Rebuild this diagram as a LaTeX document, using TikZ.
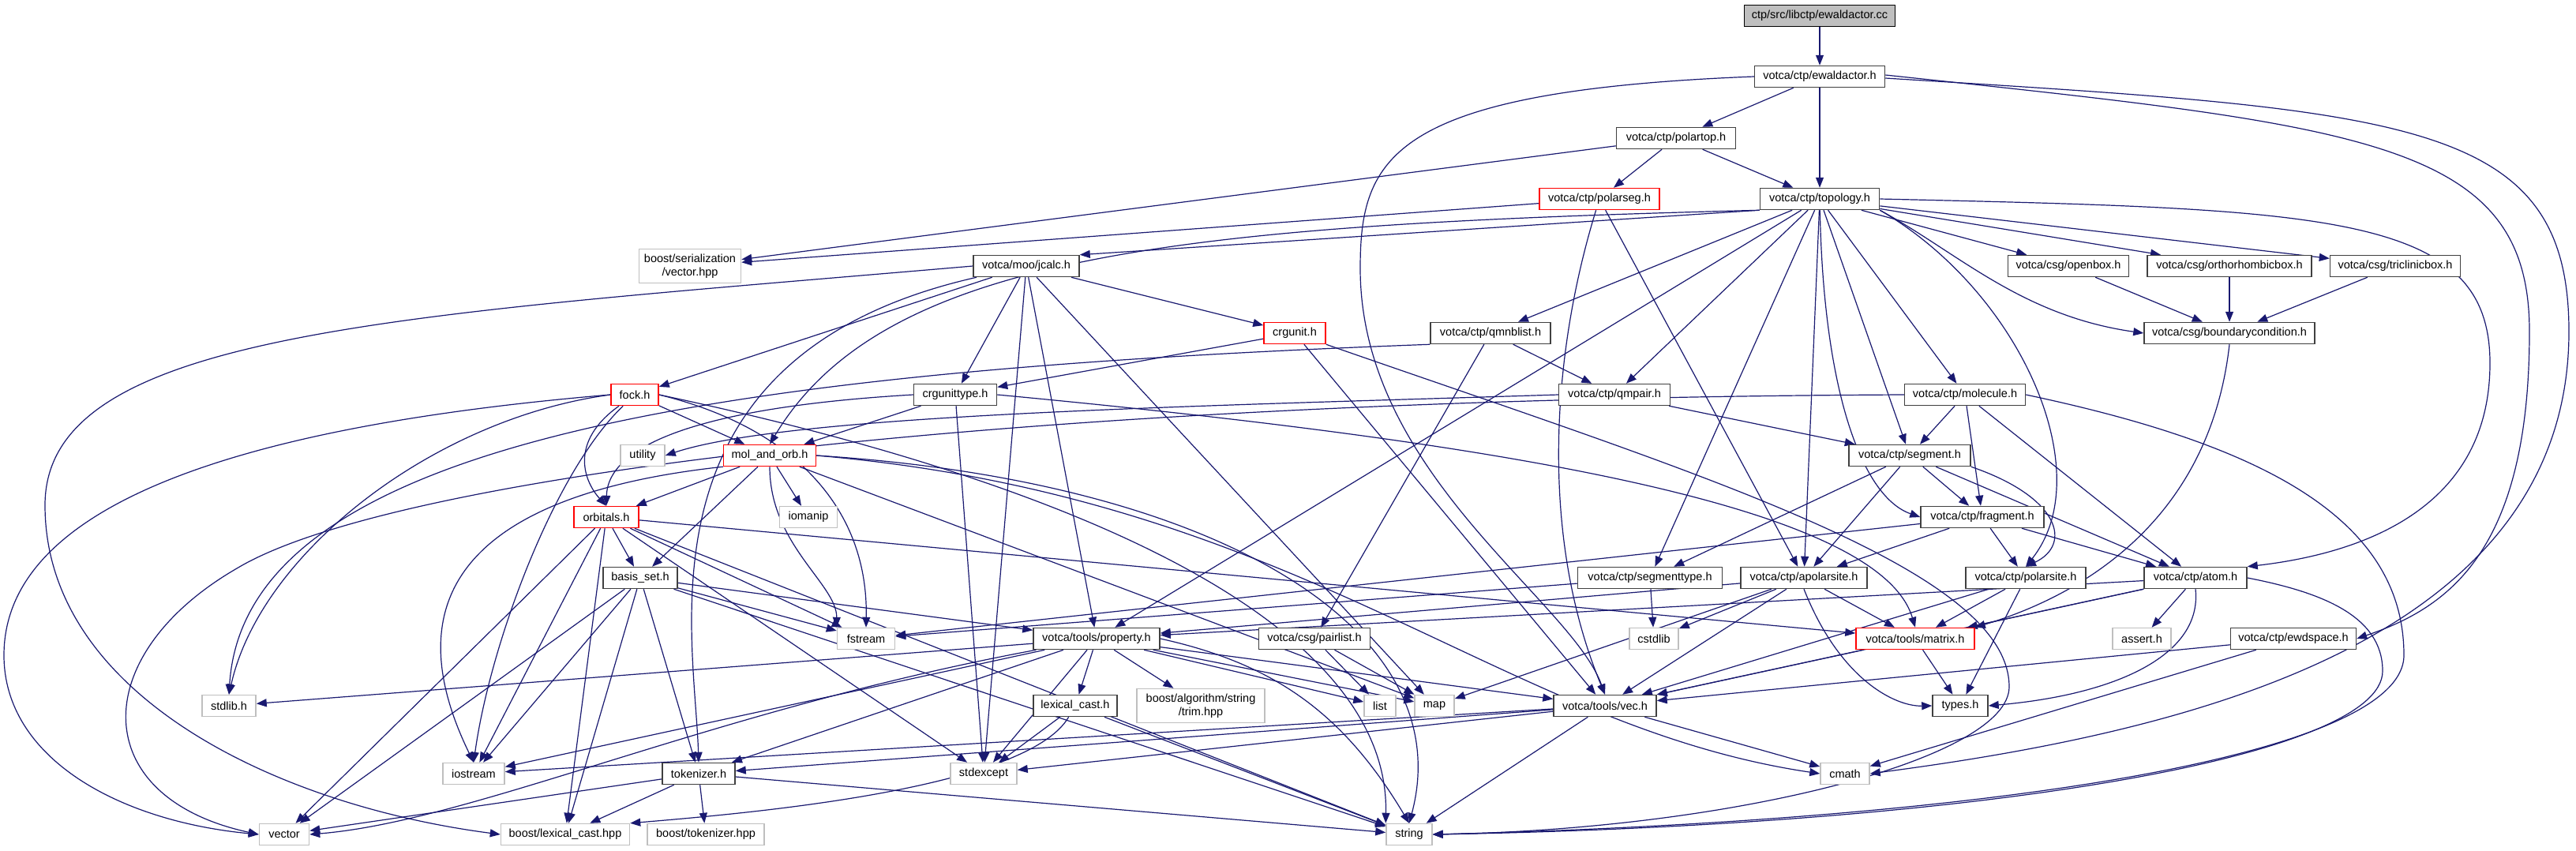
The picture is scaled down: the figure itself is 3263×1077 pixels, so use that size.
\documentclass[tikz,border=0pt]{standalone}
\usepackage{fontspec}
\setmainfont{Liberation Sans}
\usetikzlibrary{arrows.meta}
\definecolor{edgec}{HTML}{191970}
\definecolor{boxc}{HTML}{404040}
\definecolor{sysc}{HTML}{BFBFBF}
\definecolor{redc}{HTML}{FF0000}
\pgfdeclarelayer{bg}
\pgfsetlayers{bg,main}
\tikzset{
  hdr/.style={draw=boxc, line width=1.5pt, fill=white, minimum height=27pt, inner sep=0pt, font=\fontsize{14.5}{17}\selectfont},
  redbox/.style={hdr, draw=redc},
  sysbox/.style={hdr, draw=sysc},
  e/.style={draw=edgec, line width=1.2pt, -{Triangle[length=13pt,width=10pt]}},
}
\begin{document}
\begin{tikzpicture}[x=1pt,y=-1pt]
\useasboundingbox (0,0) rectangle (3263,1077);
% nodes
\node[hdr, fill=sysc, draw=black, minimum width=191pt] (cc) at (2305,20) {ctp/src/libctp/ewaldactor.cc};
\node[hdr, minimum width=165pt] (ewaldactor) at (2305,97) {votca/ctp/ewaldactor.h};
\node[hdr, minimum width=151pt] (polartop) at (2123,175) {votca/ctp/polartop.h};
\node[redbox, minimum width=152pt] (polarseg) at (2026,252) {votca/ctp/polarseg.h};
\node[hdr, minimum width=151pt] (topology) at (2305,252) {votca/ctp/topology.h};
\node[sysbox, minimum width=129pt, minimum height=43pt, align=center] (bser) at (874,337) {boost/serialization\\/vector.hpp};
\node[hdr, minimum width=134pt] (jcalc) at (1300,337) {votca/moo/jcalc.h};
\node[hdr, minimum width=153pt] (openbox) at (2620,337) {votca/csg/openbox.h};
\node[hdr, minimum width=208pt] (ortho) at (2824,337) {votca/csg/orthorhombicbox.h};
\node[hdr, minimum width=165pt] (triclinic) at (3034,337) {votca/csg/triclinicbox.h};
\node[redbox, minimum width=78pt] (crgunit) at (1640,422) {crgunit.h};
\node[hdr, minimum width=152pt] (qmnblist) at (1888,422) {votca/ctp/qmnblist.h};
\node[hdr, minimum width=216pt] (boundary) at (2824,422) {votca/csg/boundarycondition.h};
\node[redbox, minimum width=60pt] (fock) at (804,500) {fock.h};
\node[hdr, minimum width=105pt] (crgunittype) at (1210,500) {crgunittype.h};
\node[hdr, minimum width=141pt] (qmpair) at (2045,500) {votca/ctp/qmpair.h};
\node[hdr, minimum width=153pt] (molecule) at (2489,500) {votca/ctp/molecule.h};
\node[sysbox, minimum width=56pt] (utility) at (814,577) {utility};
\node[redbox, minimum width=117pt] (molorb) at (975,577) {mol\_and\_orb.h};
\node[hdr, minimum width=154pt] (segment) at (2419,577) {votca/ctp/segment.h};
\node[redbox, minimum width=82pt] (orbitals) at (768,655) {orbitals.h};
\node[sysbox, minimum width=73pt] (iomanip) at (1024,655) {iomanip};
\node[hdr, minimum width=156pt] (fragment) at (2511,655) {votca/ctp/fragment.h};
\node[hdr, minimum width=94pt] (basis) at (811,732) {basis\_set.h};
\node[hdr, minimum width=183pt] (segmenttype) at (2090,732) {votca/ctp/segmenttype.h};
\node[hdr, minimum width=160pt] (apolarsite) at (2285,732) {votca/ctp/apolarsite.h};
\node[hdr, minimum width=152pt] (polarsite) at (2566,732) {votca/ctp/polarsite.h};
\node[hdr, minimum width=130pt] (atom) at (2781,732) {votca/ctp/atom.h};
\node[sysbox, minimum width=73pt] (fstream) at (1097,809) {fstream};
\node[hdr, minimum width=160pt] (property) at (1389,809) {votca/tools/property.h};
\node[hdr, minimum width=141pt] (pairlist) at (1665,809) {votca/csg/pairlist.h};
\node[sysbox, minimum width=62pt] (cstdlib) at (2095,809) {cstdlib};
\node[redbox, minimum width=150pt] (matrix) at (2426,809) {votca/tools/matrix.h};
\node[sysbox, minimum width=74pt] (assert) at (2713,809) {assert.h};
\node[hdr, minimum width=159pt] (ewdspace) at (2905,809) {votca/ctp/ewdspace.h};
\node[sysbox, minimum width=68pt] (stdlib) at (290,894) {stdlib.h};
\node[hdr, minimum width=106pt] (lexcast) at (1362,894) {lexical\_cast.h};
\node[sysbox, minimum width=162pt, minimum height=43pt, align=center] (trim) at (1521,894) {boost/algorithm/string\\/trim.hpp};
\node[sysbox, minimum width=40pt] (list) at (1748,894) {list};
\node[sysbox, minimum width=50pt] (map) at (1817,894) {map};
\node[hdr, minimum width=130pt] (vec) at (2033,894) {votca/tools/vec.h};
\node[hdr, minimum width=70pt] (types) at (2483,894) {types.h};
\node[sysbox, minimum width=78pt] (iostream) at (600,980) {iostream};
\node[hdr, minimum width=92pt] (tokenizer) at (885,980) {tokenizer.h};
\node[sysbox, minimum width=84pt] (stdexcept) at (1246,980) {stdexcept};
\node[sysbox, minimum width=62pt] (cmath) at (2337,980) {cmath};
\node[sysbox, minimum width=63pt] (vector) at (360,1057) {vector};
\node[sysbox, minimum width=163pt] (blexcast) at (716,1057) {boost/lexical\_cast.hpp};
\node[sysbox, minimum width=148pt] (boosttok) at (894,1057) {boost/tokenizer.hpp};
\node[sysbox, minimum width=58pt] (string) at (1785,1057) {string};
% waypoints
\coordinate (wA) at (1723,340);
\coordinate (wB) at (3204,420);
\coordinate (wC) at (3254,420);
\coordinate (wD) at (3154,460);
\coordinate (wE) at (57,640);
\coordinate (wF) at (5,830);
\coordinate (wG) at (3045,830);
\coordinate (wH) at (3018,850);
\coordinate (wI) at (2545,870);
\coordinate (wJ) at (300,720);
\begin{pgfonlayer}{bg}
\fill[white] (0,0) rectangle (3263,1077);
\foreach \a/\b in {
cc/ewaldactor, ewaldactor/polartop, ewaldactor/topology,
polartop/bser, polartop/polarseg, polartop/topology,
polarseg/bser, polarseg/apolarsite,
topology/qmnblist, topology/qmpair, topology/segmenttype, topology/apolarsite, topology/segment, topology/molecule, topology/openbox, topology/ortho, topology/triclinic, topology/property,
openbox/boundary, ortho/boundary, triclinic/boundary,
jcalc/fock, jcalc/crgunittype, jcalc/crgunit, jcalc/property, jcalc/stdexcept, jcalc/map,
crgunit/crgunittype, crgunit/vec,
crgunittype/molorb, crgunittype/stdexcept,
qmnblist/qmpair, qmnblist/pairlist,
qmpair/segment,
molecule/segment, molecule/fragment, molecule/atom,
fock/molorb,
molorb/orbitals, molorb/basis, molorb/iomanip, molorb/map,
orbitals/basis, orbitals/vector, orbitals/iostream, orbitals/fstream, orbitals/stdexcept, orbitals/blexcast, orbitals/string, orbitals/matrix,
basis/property, basis/fstream, basis/tokenizer, basis/iostream, basis/vector, basis/blexcast, basis/string,
property/lexcast, property/trim, property/stdexcept, property/tokenizer, property/iostream, property/stdlib, property/list, property/map, property/vec,
lexcast/stdexcept, lexcast/string,
tokenizer/vector, tokenizer/blexcast, tokenizer/boosttok, tokenizer/string,
vec/iostream, vec/stdexcept, vec/tokenizer, vec/cmath, vec/string,
pairlist/list, pairlist/map,
segment/segmenttype, segment/apolarsite, segment/fragment, segment/atom,
fragment/apolarsite, fragment/polarsite, fragment/atom, fragment/fstream,
segmenttype/fstream, segmenttype/cstdlib,
apolarsite/cstdlib, apolarsite/vec, apolarsite/matrix, apolarsite/map, apolarsite/property,
polarsite/matrix, polarsite/types, polarsite/vec,
atom/matrix, atom/assert, atom/vec, atom/property,
matrix/vec, matrix/types,
ewdspace/vec, ewdspace/cmath}
  \draw[e] (\a) -- (\b);
% curved connectors
\draw[e] (topology.south west) -- (jcalc.north east);
\draw[e] (ewaldactor.west) .. controls (1760,115) and (1723,200) .. (wA) .. controls (1723,600) and (1990,760) .. (vec.north);
\draw[e] ([yshift=2pt]ewaldactor.east) .. controls (3000,160) and (3204,180) .. (wB) .. controls (3204,700) and (3100,770) .. (ewdspace.east);
\draw[e] ([yshift=-2pt]ewaldactor.east) .. controls (3050,140) and (3254,150) .. (wC) .. controls (3254,820) and (2750,930) .. (cmath.east);
\draw[e] (topology.east) .. controls (2950,265) and (3154,270) .. (wD) .. controls (3154,640) and (3000,700) .. (atom.north east);
\draw[e] (topology.south west) .. controls (1500,285) and (1120,320) .. (molorb.north);
\draw[e] (topology) .. controls (2310,500) and (2360,630) .. (fragment.west);
\draw[e] (topology.south east) .. controls (2560,370) and (2660,600) .. (polarsite.north);
\draw[e] (topology.south east) .. controls (2480,320) and (2560,400) .. (boundary.west);
\draw[e] (polarseg) .. controls (1965,450) and (1950,680) .. (vec.north);
\draw[e] (jcalc.west) .. controls (500,400) and (57,420) .. (wE) .. controls (57,880) and (350,1020) .. (blexcast.west);
\draw[e] (jcalc) .. controls (800,450) and (880,800) .. (tokenizer.north);
\draw[e] (fock) .. controls (720,560) and (740,610) .. (orbitals.north);
\draw[e] (fock.west) .. controls (300,540) and (5,640) .. (wF) .. controls (5,960) and (150,1040) .. (vector.west);
\draw[e] (fock.west) .. controls (550,530) and (330,700) .. (stdlib.north);
\draw[e] (fock) .. controls (700,600) and (620,820) .. (iostream.north);
\draw[e] (fock.east) .. controls (1000,540) and (1100,640) .. (fstream.north);
\draw[e] (fock.east) .. controls (1400,620) and (1760,800) .. (string.north west);
\draw[e] (molorb.south) .. controls (975,690) and (1060,740) .. (fstream.north west);
\draw[e] (molorb.south west) .. controls (650,620) and (480,720) .. (iostream.north);
\draw[e] (molorb.east) .. controls (1550,610) and (1850,800) .. (string.north);
\draw[e] (molorb.east) .. controls (1650,630) and (1900,920) .. (cmath.west);
\draw[e] (crgunittype.west) .. controls (900,515) and (770,560) .. (orbitals.north);
\draw[e] (crgunittype.east) .. controls (1900,560) and (2380,640) .. (matrix.north);
\draw[e] (crgunit.south east) .. controls (2150,600) and (2545,720) .. (wI) .. controls (2545,960) and (2200,1050) .. (string.east);
\draw[e] (molecule.west) .. controls (1300,505) and (500,600) .. (wJ) .. controls (110,830) and (110,1010) .. (vector.west);
\draw[e] (qmnblist.south west) .. controls (900,470) and (310,560) .. (stdlib.north);
\draw[e] (qmpair.west) .. controls (1500,515) and (1000,525) .. (utility.east);
\draw[e] (molecule.east) .. controls (2850,560) and (3045,650) .. (wG) .. controls (3045,960) and (2500,1040) .. (string.east);
\draw[e] (atom.east) .. controls (2940,750) and (3018,780) .. (wH) .. controls (3018,960) and (2500,1045) .. (string.east);
\draw[e] (property) .. controls (900,900) and (600,1040) .. (vector.east);
\draw[e] (property.east) .. controls (1610,840) and (1700,900) .. (string.north);
\draw[e] (lexcast) .. controls (1300,1000) and (950,1030) .. (blexcast.north east);
\draw[e] (apolarsite.south) .. controls (2330,860) and (2400,895) .. (types.west);
\draw[e] (atom.south) .. controls (2790,830) and (2680,880) .. (types.east);
\draw[e] (segment.south east) .. controls (2610,630) and (2625,690) .. (polarsite.north);
\draw[e] (boundary.south) .. controls (2800,650) and (2650,750) .. (matrix.north east);
\end{pgfonlayer}
\end{tikzpicture}
\end{document}
